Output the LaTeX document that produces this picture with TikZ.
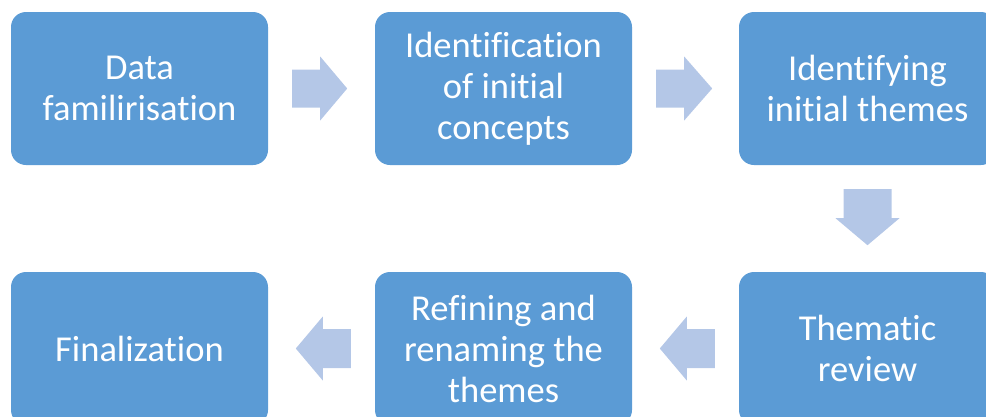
\documentclass[tikz,border=0pt]{standalone}
\usepackage{fontspec}
\setmainfont[Ligatures=NoCommon]{Carlito}
\usetikzlibrary{calc}
\definecolor{stepblue}{HTML}{5B9BD5}
\definecolor{arrowblue}{HTML}{B4C7E7}
\tikzset{
  stepbox/.style={rectangle, rounded corners=15pt, fill=stepblue, draw=none,
    minimum width=257pt, minimum height=153pt, inner sep=0pt,
    text=white, align=center, font=\fontsize{36.5}{41}\selectfont},
  pics/blockarrow/.style n args={4}{code={
    % length, body half-width, head half-width, head length
    \fill[arrowblue] (0,-#2) -- ({#1-#4},-#2) -- ({#1-#4},-#3) -- (#1,0)
      -- ({#1-#4},#3) -- ({#1-#4},#2) -- (0,#2) -- cycle;
  }},
}
\begin{document}
\begin{tikzpicture}[x=1pt, y=-1pt]
  \clip (0,0) rectangle (986,416);
  \useasboundingbox (0,0) rectangle (986,416);

  % process steps
  \node[stepbox] (s1) at (139.5,88.5) {Data\\familirisation};
  \node[stepbox] (s2) at (503.5,88.5) {Identification\\of initial\\concepts};
  \node[stepbox] (s3) at (867.5,88.5) {Identifying\\initial themes};
  \node[stepbox] (s4) at (867.5,348.5) {Thematic\\review};
  \node[stepbox] (s5) at (503.5,348.5) {Refining and\\renaming the\\themes};
  \node[stepbox] (s6) at (139.5,348.5) {Finalization};

  % block arrows between steps
  \pic at ($(s1.east)+(24,0)$) {blockarrow={55}{19}{32}{27}};
  \pic at ($(s2.east)+(24,0)$) {blockarrow={56}{19}{32}{28}};
  \pic[rotate=-90] at ($(s3.south)+(0,24)$) {blockarrow={56}{24}{32}{27}};
  \pic[rotate=180] at ($(s4.west)+(-24,0)$) {blockarrow={55}{19.5}{32}{27}};
  \pic[rotate=180] at ($(s5.west)+(-24,0)$) {blockarrow={55}{19.5}{32}{27}};
\end{tikzpicture}
\end{document}
